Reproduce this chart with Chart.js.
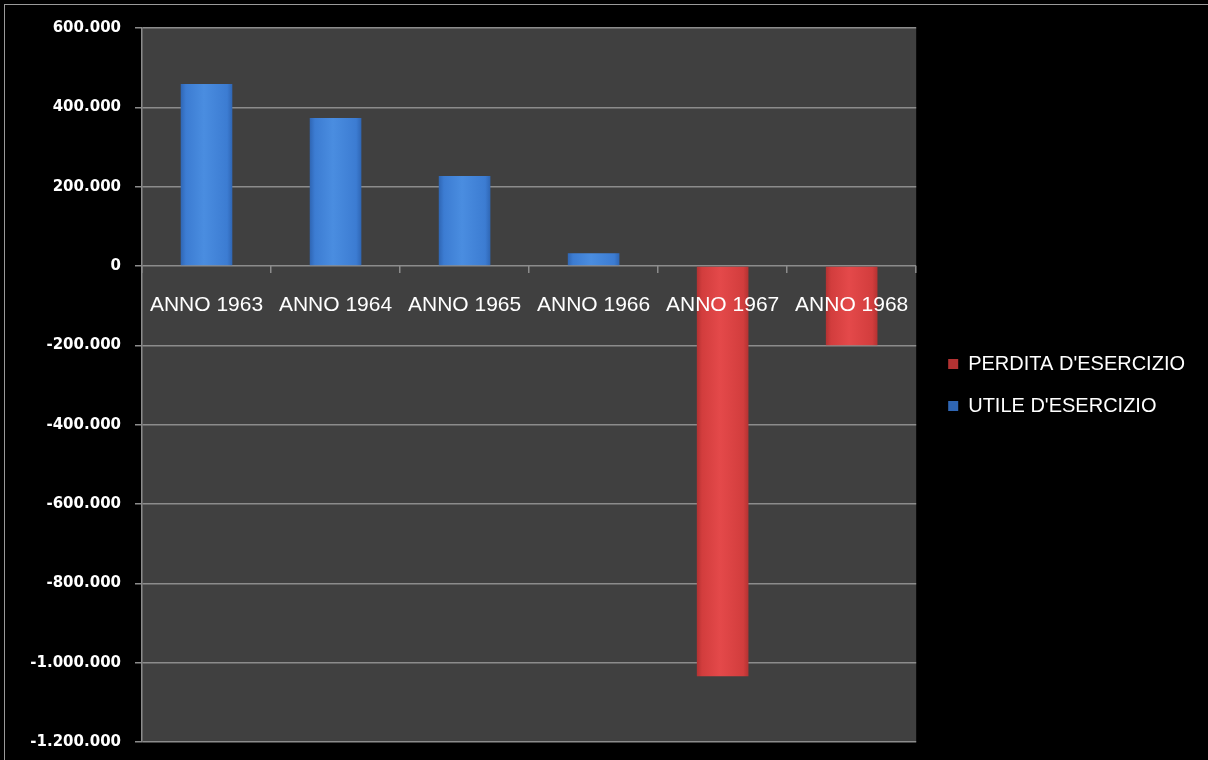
<!DOCTYPE html>
<html lang="it">
<head>
  <meta charset="UTF-8" />
  <title>Utile e perdita d'esercizio 1963-1968</title>
  <script src="https://cdn.jsdelivr.net/npm/chart.js"></script>
  <style>
    html, body { margin: 0; padding: 0; background: #000; overflow: hidden; }
    .cornice { position: relative; width: 1208px; height: 760px; }
    .cornice::before { content: ''; position: absolute; left: 4px; top: 4px; width: 1204px; height: 756px; border-left: 1px solid #9a9a9a; border-top: 1px solid #9a9a9a; box-sizing: border-box; pointer-events: none; }
  </style>
</head>
<body>
  <div class="cornice">
    <canvas id="graficoEsercizi" width="1208" height="760"></canvas>
  </div>

  <script>
    const anni = ['ANNO 1963', 'ANNO 1964', 'ANNO 1965', 'ANNO 1966', 'ANNO 1967', 'ANNO 1968'];
    const perdita = [null, null, null, null, -1034000, -200000];
    const utile = [459000, 373000, 227000, 32000, null, null];
    const asseMin = -1200000;
    const asseMax = 600000;
    const passo = 200000;

    const larghezzaBarra = 0.4;

    // 1.200.000 con il punto come separatore delle migliaia
    function formatta(v) {
      const s = String(Math.abs(v)).replace(/\B(?=(\d{3})+(?!\d))/g, '.');
      return (v < 0 ? '-' : '') + s;
    }

    // effetto smussato stile Excel: bordi scuri, centro più chiaro
    function smussato(c, toni) {
      const x = c.chart.scales.x;
      if (c.type !== 'data' || !x || !x.width) return toni[1];
      const centro = x.getPixelForValue(c.dataIndex);
      const mezza = x.width / anni.length * larghezzaBarra / 2;
      const g = c.chart.ctx.createLinearGradient(centro - mezza, 0, centro + mezza, 0);
      g.addColorStop(0, toni[0]);
      g.addColorStop(0.1, toni[2]);
      g.addColorStop(0.45, toni[1]);
      g.addColorStop(0.9, toni[2]);
      g.addColorStop(1, toni[0]);
      return g;
    }
    const toniRossi = ['#b33232', '#e4494a', '#d23d3d'];
    const toniBlu = ['#2f66b4', '#4a8de0', '#3c7cd2'];

    const sfondoGrafico = {
      id: 'sfondoGrafico',
      beforeDraw(chart) {
        const { ctx, chartArea: a } = chart;
        ctx.save();
        ctx.fillStyle = '#404040';
        ctx.fillRect(a.left, a.top, a.right - a.left, a.bottom - a.top);
        ctx.restore();
      },
      afterLayout(chart) {
        // piccolo spazio tra area del grafico e legenda
        chart.legend.left += 10;
        chart.legend.right += 10;
      }
    };

    const grafico = new Chart(document.getElementById('graficoEsercizi'), {
      type: 'bar',
      data: {
        labels: anni,
        datasets: [
          {
            label: "PERDITA D'ESERCIZIO",
            data: perdita,
            backgroundColor: c => smussato(c, toniRossi),
            categoryPercentage: larghezzaBarra,
            barPercentage: 1
          },
          {
            label: "UTILE D'ESERCIZIO",
            data: utile,
            backgroundColor: c => smussato(c, toniBlu),
            categoryPercentage: larghezzaBarra,
            barPercentage: 1
          }
        ]
      },
      options: {
        responsive: false,
        animation: false,
        layout: { padding: { top: 28, bottom: 18, left: 0, right: 23 } },
        plugins: {
          tooltip: { enabled: false },
          legend: {
            position: 'right',
            align: 'center',
            labels: {
              color: '#ffffff',
              font: { family: 'Liberation Sans', size: 20 },
              boxWidth: 10,
              boxHeight: 10,
              padding: 22
            }
          }
        },
        scales: {
          x: {
            stacked: true,
            position: { y: 0 },
            grid: { display: true, drawOnChartArea: false, drawTicks: true, tickLength: 7, color: '#8c8c8c', lineWidth: 1.5, offset: true },
            border: { display: false },
            ticks: {
              z: 1,
              color: '#ffffff',
              font: { family: 'Liberation Sans', size: 21 },
              padding: 20,
              maxRotation: 0,
              autoSkip: false
            }
          },
          y: {
            stacked: true,
            min: asseMin,
            max: asseMax,
            afterFit(s) {
              s.width = 142;
              s.paddingTop = 9;
              s.paddingBottom = 9;
            },
            grid: { color: '#8c8c8c', lineWidth: 1.5, tickLength: 7 },
            border: { display: true, color: '#8c8c8c', width: 1.5 },
            ticks: {
              stepSize: passo,
              color: '#ffffff',
              padding: 14,
              font: { family: 'DejaVu Sans', size: 15, weight: 'bold' },
              callback: v => formatta(v)
            }
          }
        }
      },
      plugins: [sfondoGrafico]
    });
  </script>
</body>
</html>
